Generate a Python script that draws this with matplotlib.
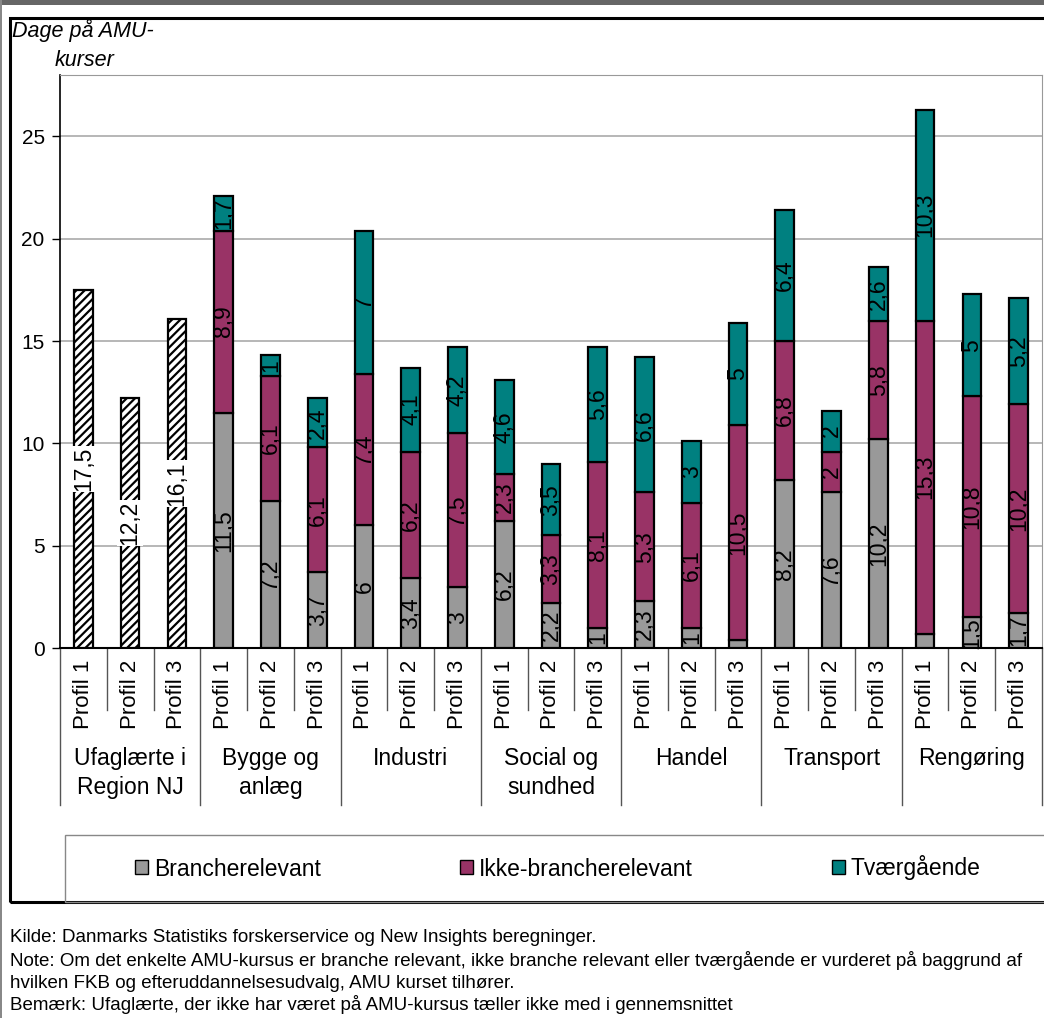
import matplotlib
matplotlib.use("Agg")
import matplotlib.pyplot as plt
from matplotlib.patches import Patch, Rectangle
import numpy as np

plt.rcParams['font.family'] = ['Liberation Sans', 'DejaVu Sans']
plt.rcParams['hatch.linewidth'] = 1.6

groups = ["Ufaglærte i\nRegion NJ", "Bygge og\nanlæg", "Industri", "Social og\nsundhed",
          "Handel", "Transport", "Rengøring"]
profiles = ["Profil 1", "Profil 2", "Profil 3"]

# ufaglaerte (total only)
ufaglaerte = [17.5, 12.2, 16.1]

# the six branches, 3 profiles each
branche = [11.5, 7.2, 3.7, 6, 3.4, 3, 6.2, 2.2, 1, 2.3, 1, 0.4, 8.2, 7.6, 10.2, 0.7, 1.5, 1.7]
ikke_branche = [8.9, 6.1, 6.1, 7.4, 6.2, 7.5, 2.3, 3.3, 8.1, 5.3, 6.1, 10.5, 6.8, 2, 5.8, 15.3, 10.8, 10.2]
tvaergaaende = [1.7, 1, 2.4, 7, 4.1, 4.2, 4.6, 3.5, 5.6, 6.6, 3, 5, 6.4, 2, 2.6, 10.3, 5, 5.2]

series_names = ["Brancherelevant", "Ikke-brancherelevant", "Tværgående"]
colors = ["#999999", "#993366", "#008080"]

W, H = 1044, 1018
fig = plt.figure(figsize=(W / 100, H / 100), dpi=100)

def fx(px):
    return px / W

def fy(py):
    return 1 - py / H

# outer frames
fig.add_artist(Rectangle((0, fy(5)), 1, 5 / H, transform=fig.transFigure, color="#666666", lw=0))
fig.add_artist(Rectangle((0, 0), 2 / W, 1, transform=fig.transFigure, color="#888888", lw=0))
fig.add_artist(Rectangle((fx(10), fy(902)), 1.2, (902 - 18) / H, transform=fig.transFigure,
                         fill=False, ec="black", lw=2.2))
fig.add_artist(Rectangle((fx(65), fy(902)), 1.2, (902 - 835) / H, transform=fig.transFigure,
                         fill=False, ec="#888888", lw=1))

ax = fig.add_axes([fx(60), fy(648), fx(1042) - fx(60), fy(75) - fy(648)])

x = np.arange(21)
bw = 0.4

ax.bar(x[:3], ufaglaerte, bw, color="white", edgecolor="black", hatch="////", lw=1.6, zorder=3)
for xi, v in zip(x[:3], ufaglaerte):
    ax.text(xi, v / 2, f"{v:g}".replace(".", ","), rotation=90, ha="center", va="center",
            fontsize=16.5, zorder=4, bbox=dict(boxstyle="square,pad=0.05", fc="white", ec="none"))

bottom = np.zeros(18)
for vals, name, c in zip([branche, ikke_branche, tvaergaaende], series_names, colors):
    vals = np.array(vals)
    ax.bar(x[3:], vals, bw, bottom=bottom, color=c, edgecolor="black", lw=1.6, zorder=3)
    for xi, b, v in zip(x[3:], bottom, vals):
        if v >= 0.8:
            ax.text(xi, b + v / 2, f"{v:g}".replace(".", ","), rotation=90, ha="center",
                    va="center", fontsize=16.5, zorder=4)
    bottom += vals

ax.set_xlim(-0.5, 20.5)
ax.set_ylim(0, 28)
ax.set_yticks([0, 5, 10, 15, 20, 25])
ax.tick_params(axis="y", labelsize=15, length=6, direction="out", width=1, pad=5)
ax.set_xticks([])
ax.grid(axis="y", color="#aaaaaa", lw=1.2, zorder=0)
ax.set_axisbelow(True)
for s in ["top", "right"]:
    ax.spines[s].set_color("#999999")
ax.spines["left"].set_linewidth(1.2)
ax.spines["bottom"].set_linewidth(1.5)

# category axis: profile labels and group labels
tr = ax.get_xaxis_transform()
for i in range(21):
    ax.text(x[i], -12 / 573, profiles[i % 3], rotation=90, ha="center", va="top",
            fontsize=16, transform=tr)
for b in np.arange(22) - 0.5:
    if int(b + 0.5) % 3 == 0:
        ax.plot([b, b], [0, -157 / 573], color="#555555", lw=1, transform=tr, clip_on=False)
    else:
        ax.plot([b, b], [0, -62 / 573], color="#555555", lw=1, transform=tr, clip_on=False)
for g, name in enumerate(groups):
    ax.text(3 * g + 1, -99 / 573, name, ha="center", va="top", fontsize=16.5,
            linespacing=1.35, transform=tr)

fig.text(fx(12), fy(30), "Dage på AMU-", style="italic", fontsize=15.5, va="center", ha="left")
fig.text(fx(55), fy(60), "kurser", style="italic", fontsize=15.5, va="center", ha="left")

handles = [Patch(facecolor=c, edgecolor="black", lw=1) for c in colors]
fig.legend(handles, series_names, loc="center", bbox_to_anchor=(fx(558), fy(868)), ncol=3,
           frameon=False, fontsize=16.5, columnspacing=6.1, handlelength=0.55, handleheight=0.55,
           handletextpad=0.25)

notes = [
    (937, "Kilde: Danmarks Statistiks forskerservice og New Insights beregninger."),
    (961, "Note: Om det enkelte AMU-kursus er branche relevant, ikke branche relevant eller tværgående er vurderet på baggrund af"),
    (983, "hvilken FKB og efteruddannelsesudvalg, AMU kurset tilhører."),
    (1005, "Bemærk: Ufaglærte, der ikke har været på AMU-kursus tæller ikke med i gennemsnittet"),
]
for py, t in notes:
    fig.text(fx(10), fy(py), t, fontsize=13.5, va="center", ha="left")

fig.savefig("out.png", dpi=100)
